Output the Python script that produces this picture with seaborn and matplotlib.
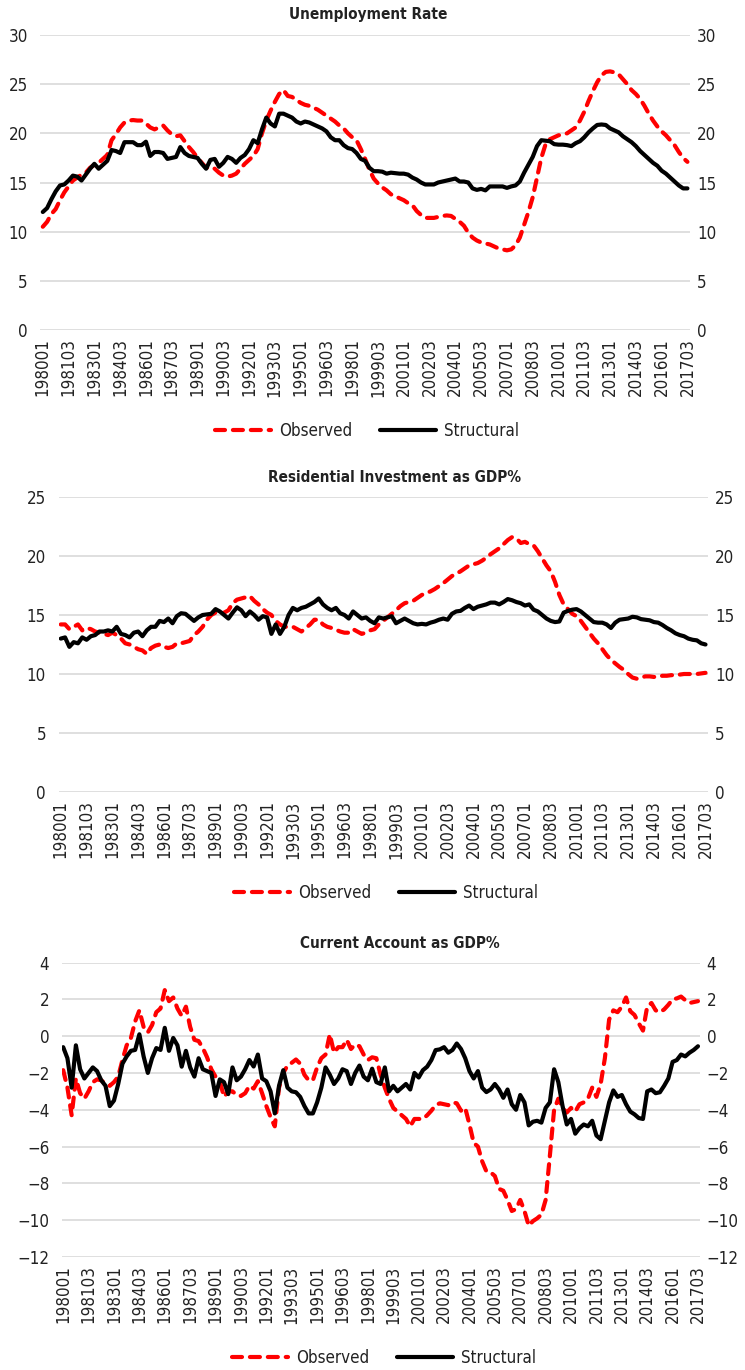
import numpy as np
import pandas as pd
import matplotlib
matplotlib.use('Agg')
import matplotlib.pyplot as plt
from matplotlib.lines import Line2D
from matplotlib import font_manager as fm
import seaborn as sns

# quarterly periods 1980Q1 .. 2017Q3
quarters = [f'{y}{q:02d}' for y in range(1980, 2018) for q in range(1, 5)][:151]

unemp_obs = [
    10.5, 11.0, 11.8, 12.3, 13.2, 14.0, 14.6, 15.2,
    15.5, 15.8, 16.0, 16.5, 16.8, 17.0, 17.4, 17.8,
    19.3, 19.9, 20.6, 21.1, 21.3, 21.35, 21.3, 21.3,
    21.0, 20.6, 20.4, 20.6, 20.8, 20.3, 19.9, 19.7,
    19.8, 19.2, 18.6, 18.1, 17.5, 17.0, 16.5, 16.6,
    16.4, 16.0, 15.7, 15.6, 15.7, 15.9, 16.4, 16.9,
    17.3, 17.7, 18.4, 20.0, 21.3, 22.3, 23.2, 24.0,
    24.4, 23.8, 23.7, 23.4, 23.1, 22.9, 22.8, 22.6,
    22.4, 22.1, 21.8, 21.5, 21.2, 20.8, 20.5, 20.0,
    19.6, 19.3, 18.4, 17.4, 16.3, 15.4, 14.9, 14.5,
    14.2, 13.8, 13.6, 13.4, 13.2, 12.9, 12.7, 12.1,
    11.7, 11.4, 11.4, 11.4, 11.5, 11.6, 11.65, 11.6,
    11.3, 11.0, 10.6, 9.9, 9.4, 9.1, 8.9, 8.8,
    8.7, 8.5, 8.3, 8.2, 8.1, 8.2, 8.6, 9.4,
    10.7, 12.0, 13.5, 15.5, 17.5, 18.9, 19.4, 19.6,
    19.8, 19.9, 20.0, 20.3, 20.6, 21.3, 22.2, 23.3,
    24.3, 25.2, 25.9, 26.25, 26.3, 26.2, 26.0, 25.5,
    25.0, 24.4, 24.0, 23.5, 22.8, 22.0, 21.3, 20.7,
    20.2, 19.8, 19.3, 18.8, 18.1, 17.5, 17.1,
]
unemp_str = [
    12.0, 12.4, 13.3, 14.1, 14.7, 14.8, 15.2, 15.7,
    15.6, 15.2, 15.8, 16.4, 16.9, 16.4, 16.8, 17.2,
    18.3, 18.2, 18.0, 19.1, 19.1, 19.1, 18.8, 18.8,
    19.15, 17.7, 18.1, 18.1, 18.0, 17.4, 17.5, 17.6,
    18.6, 18.0, 17.7, 17.6, 17.5, 16.9, 16.4, 17.3,
    17.4, 16.6, 17.0, 17.6, 17.4, 17.0, 17.5, 17.8,
    18.4, 19.3, 19.0, 20.4, 21.6, 21.0, 20.7, 22.0,
    22.0, 21.8, 21.6, 21.2, 21.0, 21.2, 21.1, 20.9,
    20.7, 20.5, 20.2, 19.6, 19.3, 19.3, 18.8, 18.5,
    18.4, 18.0, 17.4, 17.2, 16.5, 16.15, 16.15, 16.1,
    15.9, 16.0, 15.95, 15.9, 15.9, 15.8, 15.5, 15.3,
    15.0, 14.8, 14.8, 14.8, 15.0, 15.1, 15.2, 15.3,
    15.4, 15.1, 15.1, 15.0, 14.4, 14.25, 14.35, 14.2,
    14.6, 14.6, 14.6, 14.6, 14.45, 14.6, 14.7, 15.1,
    16.0, 16.8, 17.6, 18.7, 19.3, 19.25, 19.2, 18.9,
    18.85, 18.85, 18.8, 18.7, 19.0, 19.2, 19.6, 20.1,
    20.5, 20.85, 20.9, 20.85, 20.5, 20.3, 20.1, 19.7,
    19.4, 19.1, 18.7, 18.2, 17.8, 17.4, 17.0, 16.7,
    16.2, 15.9, 15.5, 15.1, 14.7, 14.4, 14.4,
]

resid_obs = [
    14.2, 14.2, 13.8, 14.0, 14.2, 13.7, 13.9, 13.8,
    13.6, 13.5, 13.4, 13.3, 13.5, 13.3, 13.0, 12.6,
    12.5, 12.3, 12.1, 12.0, 11.7, 12.2, 12.4, 12.5,
    12.3, 12.2, 12.3, 12.6, 12.6, 12.7, 12.8, 13.3,
    13.6, 14.0, 14.6, 15.0, 15.2, 15.1, 15.2, 15.4,
    16.0, 16.3, 16.4, 16.5, 16.6, 16.2, 15.9, 15.5,
    15.2, 15.0, 14.5, 14.2, 14.0, 14.0, 14.0, 13.8,
    13.6, 13.9, 14.2, 14.6, 14.6, 14.2, 14.0, 13.9,
    13.75, 13.6, 13.5, 13.5, 13.8, 13.6, 13.4, 13.5,
    13.7, 13.8, 14.2, 14.5, 14.8, 15.1, 15.4, 15.75,
    16.0, 16.1, 16.2, 16.45, 16.7, 16.85, 17.0, 17.2,
    17.45, 17.7, 18.0, 18.3, 18.5, 18.7, 18.95, 19.2,
    19.3, 19.4, 19.6, 19.85, 20.15, 20.4, 20.65, 21.0,
    21.35, 21.6, 21.5, 21.1, 21.2, 21.0, 20.9, 20.4,
    19.8, 19.2, 18.7, 17.8, 16.7, 15.9, 15.5, 15.1,
    14.9, 14.5, 14.0, 13.5, 13.0, 12.6, 12.1, 11.6,
    11.2, 10.9, 10.6, 10.35, 10.0, 9.7, 9.6, 9.7,
    9.8, 9.8, 9.75, 9.8, 9.85, 9.85, 9.9, 9.9,
    9.95, 10.0, 10.0, 10.0, 10.0, 10.05, 10.1,
]
resid_str = [
    13.0, 13.1, 12.3, 12.7, 12.6, 13.1, 12.9, 13.2,
    13.3, 13.6, 13.6, 13.7, 13.6, 14.0, 13.4, 13.3,
    13.1, 13.5, 13.6, 13.2, 13.7, 14.0, 14.0, 14.5,
    14.4, 14.7, 14.3, 14.9, 15.15, 15.1, 14.8, 14.5,
    14.8, 15.0, 15.05, 15.1, 15.5, 15.3, 15.0, 14.7,
    15.2, 15.65, 15.4, 14.9, 15.3, 15.0, 14.6, 14.9,
    14.8, 13.4, 14.2, 13.4, 14.0, 15.0, 15.6, 15.4,
    15.6, 15.7, 15.9, 16.1, 16.4, 15.9, 15.6, 15.4,
    15.6, 15.15, 15.0, 14.7, 15.3, 15.0, 14.7, 14.8,
    14.5, 14.3, 14.8, 14.7, 14.8, 14.9, 14.3, 14.5,
    14.7, 14.5, 14.3, 14.2, 14.25, 14.2, 14.35, 14.45,
    14.6, 14.7, 14.6, 15.1, 15.3, 15.35, 15.6, 15.8,
    15.5, 15.7, 15.8, 15.9, 16.05, 16.05, 15.9, 16.1,
    16.35, 16.25, 16.1, 16.0, 15.8, 15.9, 15.45, 15.3,
    15.0, 14.7, 14.5, 14.4, 14.45, 15.2, 15.35, 15.45,
    15.5, 15.3, 15.0, 14.7, 14.4, 14.35, 14.35, 14.2,
    13.9, 14.35, 14.6, 14.65, 14.7, 14.85, 14.8, 14.65,
    14.6, 14.55, 14.4, 14.35, 14.15, 13.9, 13.7, 13.45,
    13.3, 13.2, 13.0, 12.9, 12.85, 12.6, 12.5,
]

ca_obs = [
    -1.85, -2.8, -4.3, -2.3, -3.1, -3.4, -3.0, -2.5,
    -2.35, -2.4, -2.6, -2.7, -2.5, -2.2, -1.3, -0.5,
    -0.1, 0.8, 1.4, 0.5, 0.2, 0.6, 1.3, 1.5,
    2.5, 1.9, 2.1, 1.5, 1.1, 1.6, 0.5, -0.2,
    -0.27, -0.65, -1.15, -1.8, -2.2, -2.45, -3.3, -3.0,
    -3.0, -3.2, -3.25, -3.1, -2.7, -2.85, -2.45, -3.1,
    -3.8, -4.4, -4.9, -2.8, -2.0, -1.6, -1.45, -1.27,
    -1.5, -2.1, -2.4, -2.4, -1.7, -1.2, -1.0, 0.1,
    -0.9, -0.6, -0.6, -0.2, -0.7, -0.45, -0.55, -1.0,
    -1.3, -1.15, -1.2, -2.1, -2.8, -3.4, -3.9, -4.1,
    -4.3, -4.5, -4.9, -4.5, -4.5, -4.5, -4.3, -4.05,
    -3.75, -3.65, -3.7, -3.75, -3.6, -3.65, -4.05, -3.9,
    -4.8, -5.8, -6.0, -6.8, -7.35, -7.4, -7.6, -8.3,
    -8.4, -8.9, -9.5, -9.4, -8.9, -9.5, -10.3, -10.05,
    -9.9, -9.7, -8.9, -6.5, -4.0, -3.4, -3.9, -4.15,
    -3.9, -4.1, -3.7, -3.6, -3.4, -2.8, -3.3, -2.6,
    -1.2, 0.9, 1.4, 1.3, 1.6, 2.1, 1.35, 1.15,
    0.7, 0.3, 1.6, 1.8, 1.4, 1.3, 1.45, 1.7,
    2.0, 2.05, 2.15, 1.95, 1.8, 1.85, 1.9,
]
ca_str = [
    -0.6, -1.2, -2.8, -0.5, -1.8, -2.3, -2.0, -1.7,
    -1.9, -2.4, -2.7, -3.8, -3.5, -2.6, -1.5, -1.1,
    -0.8, -0.75, 0.1, -1.1, -2.0, -1.2, -0.65, -0.75,
    0.45, -0.8, -0.1, -0.5, -1.66, -0.8, -1.7, -2.2,
    -1.2, -1.8, -1.9, -2.0, -3.25, -2.35, -2.5, -3.15,
    -1.7, -2.4, -2.2, -1.8, -1.3, -1.65, -1.0, -2.3,
    -2.45, -3.0, -4.2, -2.7, -1.85, -2.8, -3.0, -3.05,
    -3.3, -3.8, -4.2, -4.2, -3.6, -2.8, -1.7, -2.1,
    -2.6, -2.3, -1.8, -1.9, -2.6, -2.0, -1.6, -2.2,
    -2.4, -1.77, -2.5, -2.6, -1.7, -3.0, -2.7, -3.0,
    -2.8, -2.6, -2.9, -2.0, -2.25, -1.85, -1.66, -1.3,
    -0.76, -0.72, -0.6, -0.9, -0.75, -0.4, -0.7, -1.2,
    -1.9, -2.3, -1.9, -2.8, -3.04, -2.9, -2.6, -2.9,
    -3.35, -2.9, -3.7, -4.0, -3.2, -3.6, -4.85, -4.65,
    -4.6, -4.7, -3.9, -3.6, -1.8, -2.5, -3.8, -4.8,
    -4.5, -5.3, -5.0, -4.8, -4.9, -4.6, -5.4, -5.6,
    -4.6, -3.6, -2.95, -3.3, -3.2, -3.7, -4.1, -4.25,
    -4.45, -4.5, -3.0, -2.9, -3.1, -3.05, -2.7, -2.3,
    -1.4, -1.3, -1.0, -1.1, -0.9, -0.75, -0.55,
]

sns.set_style('white')

# the original uses a narrow face; use a condensed one when the system has it
fonts = fm.fontManager.ttflist
if any(f.name == 'Liberation Sans Narrow' for f in fonts):
    plt.rcParams['font.family'] = ['Liberation Sans Narrow', 'DejaVu Sans']
    fs, fs_title = 14.5, 12.5
elif any(f.name == 'DejaVu Sans' and f.stretch == 'condensed' for f in fonts):
    plt.rcParams['font.family'] = ['DejaVu Sans']
    plt.rcParams['font.stretch'] = 'condensed'
    fs, fs_title = 12.2, 11
else:
    plt.rcParams['font.family'] = ['DejaVu Sans']
    fs, fs_title = 11, 10

W, H = 745, 1370
fig = plt.figure(figsize=(W / 100, H / 100), dpi=100)

# (title, observed, structural, y range, y step, axes px box, xlim, title pos, legend pos)
panels = [
    ('Unemployment Rate', unemp_obs, unemp_str, (0, 30), 5,
     (40.4, 35, 690, 330), (-0.56, 150.6), (368, 14), (367, 431)),
    ('Residential Investment as GDP%', resid_obs, resid_str, (0, 25), 5,
     (58.5, 497, 708, 792), (-0.53, 150.58), (394, 477), (386, 893)),
    ('Current Account as GDP%', ca_obs, ca_str, (-12, 4), 2,
     (61.8, 962.5, 699.8, 1257), (-0.33, 150.43), (400, 944), (384, 1358)),
]

txt_col = '#222222'
for title, obs, strc, ylim, ystep, box, xlim, tpos, lpos in panels:
    x0, y0, x1, y1 = box
    ax = fig.add_axes([x0 / W, 1 - y1 / H, (x1 - x0) / W, (y1 - y0) / H])
    df = pd.DataFrame({
        'idx': list(range(len(quarters))) * 2,
        'value': obs + strc,
        'series': ['Observed'] * len(obs) + ['Structural'] * len(strc),
    })
    sns.lineplot(data=df, x='idx', y='value', hue='series', style='series',
                 palette={'Observed': '#ff0000', 'Structural': 'black'},
                 dashes={'Observed': (2.4, 1.9), 'Structural': ''},
                 linewidth=3, legend=False, ax=ax)
    for ln in ax.lines:
        ln.set_dash_capstyle('round')
        ln.set_solid_joinstyle('round')
        ln.set_dash_joinstyle('round')
    yt = np.arange(ylim[0], ylim[1] + 0.01, ystep)
    ax.set_xlim(*xlim)
    ax.set_ylim(*ylim)
    ax.set_yticks(yt)
    ax.set_xticks(range(0, len(quarters), 6))
    ax.set_xticklabels(quarters[::6], rotation=90, fontsize=fs, color=txt_col)
    ax.tick_params(axis='y', labelsize=fs, labelcolor=txt_col, length=0, pad=9)
    ax.tick_params(axis='x', length=0, pad=6)
    ax.grid(axis='y', color='#d9d9d9', linewidth=1.2)
    ax.grid(axis='x', visible=False)
    ax.set_axisbelow(True)
    for s in ax.spines.values():
        s.set_visible(False)
    ax.set_xlabel('')
    ax.set_ylabel('')

    # secondary labels on the right
    axr = ax.twinx()
    axr.set_ylim(*ylim)
    axr.set_yticks(yt)
    axr.tick_params(axis='y', labelsize=fs, labelcolor=txt_col, length=0, pad=5)
    axr.grid(False)
    for s in axr.spines.values():
        s.set_visible(False)

    fig.text(tpos[0] / W, 1 - tpos[1] / H, title, ha='center', va='center',
             fontsize=fs_title, fontweight='bold', color=txt_col)
    handles = [
        Line2D([0], [0], color='#ff0000', lw=3, ls=(0, (2.4, 1.9)), dash_capstyle='round'),
        Line2D([0], [0], color='black', lw=3),
    ]
    fig.legend(handles, ['Observed', 'Structural'], loc='center',
               bbox_to_anchor=(lpos[0] / W, 1 - lpos[1] / H), ncol=2,
               frameon=False, fontsize=fs, handlelength=3.3, handletextpad=0.5,
               columnspacing=1.6, labelcolor=txt_col)

fig.savefig('out.png', dpi=100)
